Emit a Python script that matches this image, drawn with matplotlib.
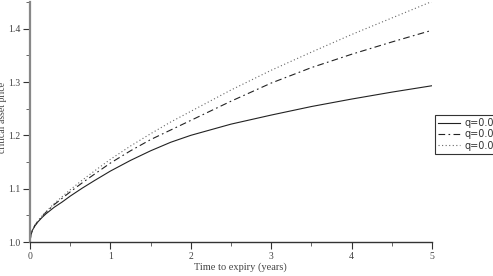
import matplotlib
matplotlib.use("Agg")
import matplotlib.pyplot as plt
from matplotlib.ticker import MultipleLocator

# time to expiry (years)
t = [0, 0.01, 0.03, 0.06, 0.1, 0.15, 0.2, 0.3, 0.4, 0.5, 0.65, 0.8, 1.0, 1.25, 1.5,
     1.75, 2, 2.5, 3, 3.5, 4, 4.5, 5]
# critical asset price for the three curves
price_solid = [1.000, 1.012, 1.022, 1.030, 1.038, 1.046, 1.053, 1.065, 1.075, 1.086,
               1.101, 1.115, 1.133, 1.153, 1.171, 1.187, 1.200, 1.221, 1.238, 1.254,
               1.268, 1.281, 1.293]
price_dashdot = [1.000, 1.012, 1.022, 1.031, 1.039, 1.048, 1.056, 1.070, 1.082, 1.094,
                 1.111, 1.127, 1.148, 1.171, 1.192, 1.210, 1.228, 1.264, 1.298, 1.327,
                 1.352, 1.375, 1.397]
price_dotted = [1.000, 1.012, 1.022, 1.031, 1.040, 1.049, 1.057, 1.072, 1.085, 1.098,
                1.116, 1.133, 1.155, 1.180, 1.203, 1.225, 1.245, 1.285, 1.322, 1.356,
                1.389, 1.420, 1.451]
labels = ["q=0.0", "q=0.0", "q=0.0"]

fig = plt.figure(figsize=(4.93, 2.76), dpi=100)
ax = fig.add_axes([30 / 493, 34 / 276, 402 / 493, 240 / 276])

ax.plot(t, price_solid, color="#222222", lw=0.8, label=labels[0])
ax.plot(t, price_dashdot, color="#222222", lw=0.8, linestyle=(0, (6, 3, 1.5, 3)), label=labels[1])
ax.plot(t, price_dotted, color="#666666", lw=0.8, linestyle=(0, (1, 2.2)), label=labels[2])

ax.set_xlim(0, 5)
ax.set_ylim(1.0, 1.45)
for s in ["top", "right"]:
    ax.spines[s].set_visible(False)
ax.spines["left"].set_color("#888888")
ax.spines["left"].set_linewidth(1.6)
ax.spines["bottom"].set_color("#333333")
ax.spines["bottom"].set_linewidth(1.0)

ax.xaxis.set_major_locator(MultipleLocator(1))
ax.xaxis.set_minor_locator(MultipleLocator(0.5))
ax.yaxis.set_major_locator(MultipleLocator(0.1))
ax.yaxis.set_minor_locator(MultipleLocator(0.05))
ax.yaxis.set_major_formatter(plt.FuncFormatter(lambda v, p: "%.1f" % v))
ax.tick_params(which="major", length=5, width=0.8, color="#333333", labelsize=7,
               labelcolor="#444444", pad=2)
ax.tick_params(which="minor", length=3, width=0.7, color="#666666")
for lab in ax.get_xticklabels() + ax.get_yticklabels():
    lab.set_family("Liberation Serif")

fig.text(240 / 493, 1 - 267 / 276, "Time to expiry (years)", family="Liberation Serif",
         fontsize=7.5, color="#444444", ha="center", va="center")
fig.text(3 / 493, 1 - 117 / 276, "critical asset price", family="Liberation Serif",
         fontsize=7, color="#444444", rotation=90, ha="center", va="center")

leg = fig.legend(loc="upper left", bbox_to_anchor=(435 / 493, 1 - 115 / 276),
                 fontsize=7, frameon=True, fancybox=False, framealpha=1,
                 edgecolor="#333333", borderpad=0.3, handlelength=2.3,
                 handletextpad=0.4, labelspacing=0.15, borderaxespad=0)
leg.get_frame().set_linewidth(0.8)
for txt in leg.get_texts():
    txt.set_color("#333333")

plt.savefig("out.png", dpi=100)
